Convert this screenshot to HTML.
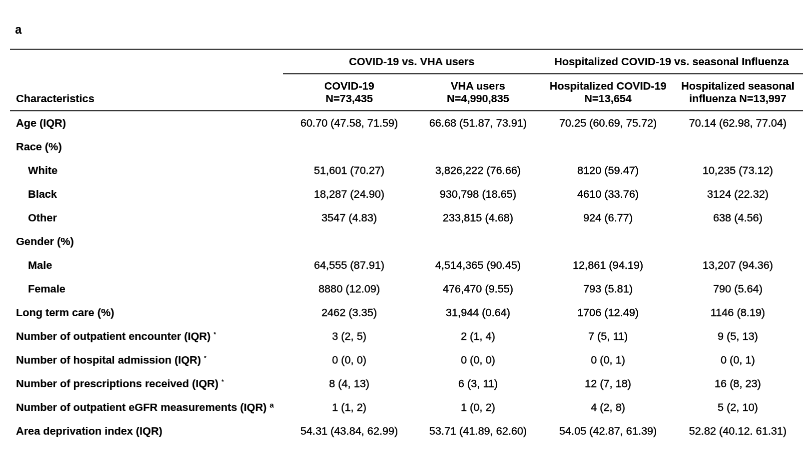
<!DOCTYPE html>
<html><head><meta charset="utf-8"><style>
html,body{margin:0;padding:0;background:#fff;}
body{width:807px;height:449px;position:relative;overflow:hidden;font-family:"Liberation Sans",sans-serif;font-size:21.7px;color:#000;}
.t{position:absolute;left:0;top:0;will-change:transform;transform-origin:0 0;white-space:nowrap;line-height:26px;height:26px;}
.b{font-weight:bold;-webkit-text-stroke:0.2px #000;}
.r{-webkit-text-stroke:0.45px #000;}
.l{position:absolute;height:1px;}
sup{font-size:15.2px;line-height:0;vertical-align:7.2px;-webkit-text-stroke:0;}
sup.k{font-size:12px;vertical-align:6.8px;}
</style></head><body>

<div class="l" style="left:10px;top:48px;width:793px;background:#dadada"></div>
<div class="l" style="left:10px;top:49px;width:793px;background:#404040"></div>
<div class="l" style="left:283px;top:73px;width:520px;background:#404040"></div>
<div class="l" style="left:283px;top:74px;width:520px;background:#d0d0d0"></div>
<div class="l" style="left:10px;top:110px;width:793px;background:#383838"></div>
<div class="l" style="left:10px;top:111px;width:793px;background:#d8d8d8"></div>
<div class="t b" style="transform:translate3d(15.10px,22.55px,0) rotateX(0.01deg) scale(0.5,0.53);font-size:23.2px;">a</div>
<div class="t b" style="transform:translate3d(calc(411.70px - 25%),55.43px,0) rotateX(0.01deg) scale(0.5,0.49);">COVID-19 vs. VHA users</div>
<div class="t b" style="transform:translate3d(calc(671.50px - 25%),55.43px,0) rotateX(0.01deg) scale(0.5,0.49);">Hospitalized COVID-19 vs. seasonal Influenza</div>
<div class="t b" style="transform:translate3d(16.00px,92.42px,0) rotateX(0.01deg) scale(0.5,0.49);">Characteristics</div>
<div class="t b" style="transform:translate3d(calc(349.20px - 25%),79.80px,0) rotateX(0.01deg) scale(0.5,0.49);">COVID-19</div>
<div class="t b" style="transform:translate3d(calc(349.20px - 25%),92.42px,0) rotateX(0.01deg) scale(0.5,0.49);">N=73,435</div>
<div class="t b" style="transform:translate3d(calc(478.00px - 25%),79.80px,0) rotateX(0.01deg) scale(0.5,0.49);">VHA users</div>
<div class="t b" style="transform:translate3d(calc(478.00px - 25%),92.42px,0) rotateX(0.01deg) scale(0.5,0.49);">N=4,990,835</div>
<div class="t b" style="transform:translate3d(calc(608.00px - 25%),79.80px,0) rotateX(0.01deg) scale(0.5,0.49);">Hospitalized COVID-19</div>
<div class="t b" style="transform:translate3d(calc(608.00px - 25%),92.42px,0) rotateX(0.01deg) scale(0.5,0.49);">N=13,654</div>
<div class="t b" style="transform:translate3d(calc(737.80px - 25%),79.80px,0) rotateX(0.01deg) scale(0.5,0.49);">Hospitalized seasonal</div>
<div class="t b" style="transform:translate3d(calc(737.80px - 25%),92.42px,0) rotateX(0.01deg) scale(0.5,0.49);">influenza N=13,997</div>
<div class="t b" style="transform:translate3d(16.00px,116.85px,0) rotateX(0.01deg) scale(0.5,0.49);">Age (IQR)</div>
<div class="t r" style="transform:translate3d(calc(349.20px - 25%),116.85px,0) rotateX(0.01deg) scale(0.5,0.49);">60.70 (47.58, 71.59)</div>
<div class="t r" style="transform:translate3d(calc(478.00px - 25%),116.85px,0) rotateX(0.01deg) scale(0.5,0.49);">66.68 (51.87, 73.91)</div>
<div class="t r" style="transform:translate3d(calc(608.00px - 25%),116.85px,0) rotateX(0.01deg) scale(0.5,0.49);">70.25 (60.69, 75.72)</div>
<div class="t r" style="transform:translate3d(calc(737.80px - 25%),116.85px,0) rotateX(0.01deg) scale(0.5,0.49);">70.14 (62.98, 77.04)</div>
<div class="t b" style="transform:translate3d(16.00px,140.54px,0) rotateX(0.01deg) scale(0.5,0.49);">Race (%)</div>
<div class="t b" style="transform:translate3d(28.00px,164.23px,0) rotateX(0.01deg) scale(0.5,0.49);">White</div>
<div class="t r" style="transform:translate3d(calc(349.20px - 25%),164.23px,0) rotateX(0.01deg) scale(0.5,0.49);">51,601 (70.27)</div>
<div class="t r" style="transform:translate3d(calc(478.00px - 25%),164.23px,0) rotateX(0.01deg) scale(0.5,0.49);">3,826,222 (76.66)</div>
<div class="t r" style="transform:translate3d(calc(608.00px - 25%),164.23px,0) rotateX(0.01deg) scale(0.5,0.49);">8120 (59.47)</div>
<div class="t r" style="transform:translate3d(calc(737.80px - 25%),164.23px,0) rotateX(0.01deg) scale(0.5,0.49);">10,235 (73.12)</div>
<div class="t b" style="transform:translate3d(28.00px,187.93px,0) rotateX(0.01deg) scale(0.5,0.49);">Black</div>
<div class="t r" style="transform:translate3d(calc(349.20px - 25%),187.93px,0) rotateX(0.01deg) scale(0.5,0.49);">18,287 (24.90)</div>
<div class="t r" style="transform:translate3d(calc(478.00px - 25%),187.93px,0) rotateX(0.01deg) scale(0.5,0.49);">930,798 (18.65)</div>
<div class="t r" style="transform:translate3d(calc(608.00px - 25%),187.93px,0) rotateX(0.01deg) scale(0.5,0.49);">4610 (33.76)</div>
<div class="t r" style="transform:translate3d(calc(737.80px - 25%),187.93px,0) rotateX(0.01deg) scale(0.5,0.49);">3124 (22.32)</div>
<div class="t b" style="transform:translate3d(28.00px,211.62px,0) rotateX(0.01deg) scale(0.5,0.49);">Other</div>
<div class="t r" style="transform:translate3d(calc(349.20px - 25%),211.62px,0) rotateX(0.01deg) scale(0.5,0.49);">3547 (4.83)</div>
<div class="t r" style="transform:translate3d(calc(478.00px - 25%),211.62px,0) rotateX(0.01deg) scale(0.5,0.49);">233,815 (4.68)</div>
<div class="t r" style="transform:translate3d(calc(608.00px - 25%),211.62px,0) rotateX(0.01deg) scale(0.5,0.49);">924 (6.77)</div>
<div class="t r" style="transform:translate3d(calc(737.80px - 25%),211.62px,0) rotateX(0.01deg) scale(0.5,0.49);">638 (4.56)</div>
<div class="t b" style="transform:translate3d(16.00px,235.31px,0) rotateX(0.01deg) scale(0.5,0.49);">Gender (%)</div>
<div class="t b" style="transform:translate3d(28.00px,259.00px,0) rotateX(0.01deg) scale(0.5,0.49);">Male</div>
<div class="t r" style="transform:translate3d(calc(349.20px - 25%),259.00px,0) rotateX(0.01deg) scale(0.5,0.49);">64,555 (87.91)</div>
<div class="t r" style="transform:translate3d(calc(478.00px - 25%),259.00px,0) rotateX(0.01deg) scale(0.5,0.49);">4,514,365 (90.45)</div>
<div class="t r" style="transform:translate3d(calc(608.00px - 25%),259.00px,0) rotateX(0.01deg) scale(0.5,0.49);">12,861 (94.19)</div>
<div class="t r" style="transform:translate3d(calc(737.80px - 25%),259.00px,0) rotateX(0.01deg) scale(0.5,0.49);">13,207 (94.36)</div>
<div class="t b" style="transform:translate3d(28.00px,282.69px,0) rotateX(0.01deg) scale(0.5,0.49);">Female</div>
<div class="t r" style="transform:translate3d(calc(349.20px - 25%),282.69px,0) rotateX(0.01deg) scale(0.5,0.49);">8880 (12.09)</div>
<div class="t r" style="transform:translate3d(calc(478.00px - 25%),282.69px,0) rotateX(0.01deg) scale(0.5,0.49);">476,470 (9.55)</div>
<div class="t r" style="transform:translate3d(calc(608.00px - 25%),282.69px,0) rotateX(0.01deg) scale(0.5,0.49);">793 (5.81)</div>
<div class="t r" style="transform:translate3d(calc(737.80px - 25%),282.69px,0) rotateX(0.01deg) scale(0.5,0.49);">790 (5.64)</div>
<div class="t b" style="transform:translate3d(16.00px,306.39px,0) rotateX(0.01deg) scale(0.5,0.49);">Long term care (%)</div>
<div class="t r" style="transform:translate3d(calc(349.20px - 25%),306.39px,0) rotateX(0.01deg) scale(0.5,0.49);">2462 (3.35)</div>
<div class="t r" style="transform:translate3d(calc(478.00px - 25%),306.39px,0) rotateX(0.01deg) scale(0.5,0.49);">31,944 (0.64)</div>
<div class="t r" style="transform:translate3d(calc(608.00px - 25%),306.39px,0) rotateX(0.01deg) scale(0.5,0.49);">1706 (12.49)</div>
<div class="t r" style="transform:translate3d(calc(737.80px - 25%),306.39px,0) rotateX(0.01deg) scale(0.5,0.49);">1146 (8.19)</div>
<div class="t b" style="transform:translate3d(16.00px,330.08px,0) rotateX(0.01deg) scale(0.5,0.49);">Number of outpatient encounter (IQR) <sup class="k">*</sup></div>
<div class="t r" style="transform:translate3d(calc(349.20px - 25%),330.08px,0) rotateX(0.01deg) scale(0.5,0.49);">3 (2, 5)</div>
<div class="t r" style="transform:translate3d(calc(478.00px - 25%),330.08px,0) rotateX(0.01deg) scale(0.5,0.49);">2 (1, 4)</div>
<div class="t r" style="transform:translate3d(calc(608.00px - 25%),330.08px,0) rotateX(0.01deg) scale(0.5,0.49);">7 (5, 11)</div>
<div class="t r" style="transform:translate3d(calc(737.80px - 25%),330.08px,0) rotateX(0.01deg) scale(0.5,0.49);">9 (5, 13)</div>
<div class="t b" style="transform:translate3d(16.00px,353.77px,0) rotateX(0.01deg) scale(0.5,0.49);">Number of hospital admission (IQR) <sup class="k">*</sup></div>
<div class="t r" style="transform:translate3d(calc(349.20px - 25%),353.77px,0) rotateX(0.01deg) scale(0.5,0.49);">0 (0, 0)</div>
<div class="t r" style="transform:translate3d(calc(478.00px - 25%),353.77px,0) rotateX(0.01deg) scale(0.5,0.49);">0 (0, 0)</div>
<div class="t r" style="transform:translate3d(calc(608.00px - 25%),353.77px,0) rotateX(0.01deg) scale(0.5,0.49);">0 (0, 1)</div>
<div class="t r" style="transform:translate3d(calc(737.80px - 25%),353.77px,0) rotateX(0.01deg) scale(0.5,0.49);">0 (0, 1)</div>
<div class="t b" style="transform:translate3d(16.00px,377.46px,0) rotateX(0.01deg) scale(0.5,0.49);">Number of prescriptions received (IQR) <sup class="k">*</sup></div>
<div class="t r" style="transform:translate3d(calc(349.20px - 25%),377.46px,0) rotateX(0.01deg) scale(0.5,0.49);">8 (4, 13)</div>
<div class="t r" style="transform:translate3d(calc(478.00px - 25%),377.46px,0) rotateX(0.01deg) scale(0.5,0.49);">6 (3, 11)</div>
<div class="t r" style="transform:translate3d(calc(608.00px - 25%),377.46px,0) rotateX(0.01deg) scale(0.5,0.49);">12 (7, 18)</div>
<div class="t r" style="transform:translate3d(calc(737.80px - 25%),377.46px,0) rotateX(0.01deg) scale(0.5,0.49);">16 (8, 23)</div>
<div class="t b" style="transform:translate3d(16.00px,401.15px,0) rotateX(0.01deg) scale(0.5,0.49);">Number of outpatient eGFR measurements (IQR) <sup>a</sup></div>
<div class="t r" style="transform:translate3d(calc(349.20px - 25%),401.15px,0) rotateX(0.01deg) scale(0.5,0.49);">1 (1, 2)</div>
<div class="t r" style="transform:translate3d(calc(478.00px - 25%),401.15px,0) rotateX(0.01deg) scale(0.5,0.49);">1 (0, 2)</div>
<div class="t r" style="transform:translate3d(calc(608.00px - 25%),401.15px,0) rotateX(0.01deg) scale(0.5,0.49);">4 (2, 8)</div>
<div class="t r" style="transform:translate3d(calc(737.80px - 25%),401.15px,0) rotateX(0.01deg) scale(0.5,0.49);">5 (2, 10)</div>
<div class="t b" style="transform:translate3d(16.00px,424.85px,0) rotateX(0.01deg) scale(0.5,0.49);">Area deprivation index (IQR)</div>
<div class="t r" style="transform:translate3d(calc(349.20px - 25%),424.85px,0) rotateX(0.01deg) scale(0.5,0.49);">54.31 (43.84, 62.99)</div>
<div class="t r" style="transform:translate3d(calc(478.00px - 25%),424.85px,0) rotateX(0.01deg) scale(0.5,0.49);">53.71 (41.89, 62.60)</div>
<div class="t r" style="transform:translate3d(calc(608.00px - 25%),424.85px,0) rotateX(0.01deg) scale(0.5,0.49);">54.05 (42.87, 61.39)</div>
<div class="t r" style="transform:translate3d(calc(737.80px - 25%),424.85px,0) rotateX(0.01deg) scale(0.5,0.49);">52.82 (40.12. 61.31)</div>
</body></html>
